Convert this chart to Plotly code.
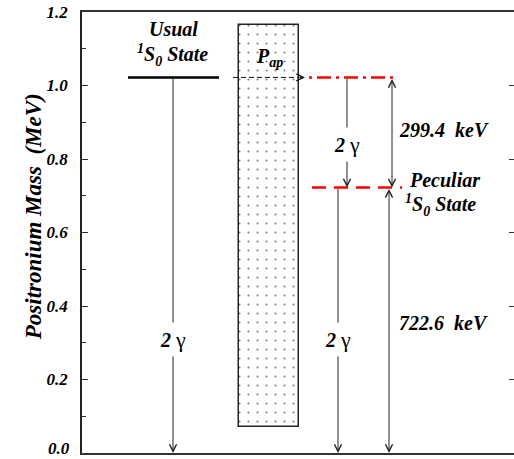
import plotly.graph_objects as go

# ---- data (energies in MeV) ----
usual_level = 1.022          # usual 1S0 state (2 m_e)
peculiar_level = 0.7226      # peculiar 1S0 state
gap_kev = 299.4              # usual - peculiar
peculiar_kev = 722.6
pap_bottom, pap_top = 0.071, 1.165
y_ticks = [0.0, 0.2, 0.4, 0.6, 0.8, 1.0, 1.2]
y_tick_labels = ["0.0", "0.2", "0.4", "0.6", "0.8", "1.0", "1.2"]

# ---- horizontal layout positions (schematic units) ----
X0, X1 = 82, 514
usual_x = [128, 219]
usual_arrow_x = 173
pap_x0, pap_x1 = 239, 299
dash_arrow_x = [233, 305]
red_top_x = [309, 397]
red_low_x = [312, 402]
mid_arrow_x = 347
gap_arrow_x = 392
low_arrow_x = 338
pec_arrow_x = 389

FONT = "Liberation Serif"
ARROW_C = "#222222"
TICK_FONT = dict(family=FONT, size=17, color="black", weight="bold", style="italic")

fig = go.Figure()

# P_ap dotted band
fig.add_trace(go.Bar(
    x=[(pap_x0 + pap_x1) / 2], y=[pap_top - pap_bottom], base=[pap_bottom],
    width=[pap_x1 - pap_x0],
    marker=dict(color="white", line=dict(color="#222222", width=1.5),
                pattern=dict(shape=".", fgcolor="black", bgcolor="white",
                             size=9, solidity=0.045, fillmode="overlay")),
    showlegend=False, hoverinfo="skip"))

# usual level
fig.add_trace(go.Scatter(x=usual_x, y=[usual_level] * 2, mode="lines",
                         line=dict(color="black", width=2.5), showlegend=False))
# dashed black transfer line
fig.add_trace(go.Scatter(x=[dash_arrow_x[0], dash_arrow_x[1] - 6], y=[usual_level] * 2,
                         mode="lines", line=dict(color="#111111", width=1, dash="5px,3px"),
                         showlegend=False))
# red dash-dot at usual level
fig.add_trace(go.Scatter(x=red_top_x, y=[usual_level] * 2, mode="lines",
                         line=dict(color="#ff0000", width=2.5, dash="3px,5px,14px,5px"),
                         showlegend=False))
# red dashed at peculiar level
fig.add_trace(go.Scatter(x=red_low_x, y=[peculiar_level] * 2, mode="lines",
                         line=dict(color="#ff0000", width=2.5, dash="14px,8px"),
                         showlegend=False))
# invisible trace for right y axis
fig.add_trace(go.Scatter(x=[X0], y=[0], yaxis="y2", mode="markers",
                         marker=dict(opacity=0), showlegend=False, hoverinfo="skip"))

annotations = []


def arrow(x, y_head, y_tail, both=False):
    annotations.append(dict(
        x=x, y=y_head, ax=x, ay=y_tail, xref="x", yref="y", axref="x", ayref="y",
        text="", showarrow=True, arrowhead=5, startarrowhead=5, arrowsize=1.4,
        startarrowsize=1.4, arrowwidth=1, arrowcolor=ARROW_C,
        arrowside="end+start" if both else "end"))


arrow(usual_arrow_x, 0.0, usual_level)
arrow(mid_arrow_x, peculiar_level, usual_level)
arrow(gap_arrow_x, peculiar_level, usual_level, both=True)
arrow(low_arrow_x, 0.0, peculiar_level)
arrow(pec_arrow_x, 0.0, peculiar_level, both=True)

# dashed arrow head
annotations.append(dict(x=dash_arrow_x[1], y=usual_level, ax=dash_arrow_x[1] - 7,
                        ay=usual_level, xref="x", yref="y", axref="x", ayref="y",
                        text="", showarrow=True, arrowhead=5, arrowsize=1.4,
                        arrowwidth=1, arrowcolor="#111111"))


def label(x, y, text, size=20, bg=None, xanchor="center", bold=True):
    d = dict(x=x, y=y, xref="x", yref="y", text=text, showarrow=False,
             xanchor=xanchor, yanchor="middle",
             font=dict(family=FONT, size=size, color="black",
                       weight="bold" if bold else "normal",
                       style="italic" if bold else "normal"))
    if bg:
        d.update(bgcolor=bg, borderpad=4)
    annotations.append(d)


gamma = "<b><i>2</i></b> <span style='font-size:22px'>γ</span>"
label(usual_arrow_x, 0.31, gamma, bg="white", bold=False)
label(mid_arrow_x, 0.84, gamma, bg="white", bold=False)
label(low_arrow_x, 0.31, gamma, bg="white", bold=False)

label(usual_arrow_x, 1.155, "Usual")
label(usual_arrow_x - 1, 1.083, "<sup>1</sup>S<sub>0</sub> State")
label((pap_x0 + pap_x1) / 2, 1.075, "P<sub>ap</sub>")
label(397, 0.88, f"{gap_kev}&nbsp;&nbsp;keV", xanchor="left")
label(397, 0.355, f"{peculiar_kev}&nbsp;&nbsp;keV", xanchor="left")
label(407, 0.742, "Peculiar", xanchor="left")
label(403, 0.676, "<sup>1</sup>S<sub>0</sub> State", xanchor="left")

# bottom tick label drawn as an annotation so it stays inside the page
annotations.append(dict(x=0, y=y_ticks[0], xref="paper", yref="y", text=y_tick_labels[0],
                        showarrow=False, xanchor="right", yanchor="bottom", xshift=-10,
                        yshift=-7, font=TICK_FONT))

# y axis title
annotations.append(dict(x=-0.113, y=0.535, xref="paper", yref="paper",
                        text="Positronium Mass&nbsp;&nbsp;(MeV)", textangle=-90,
                        showarrow=False, xanchor="center", yanchor="middle",
                        font=dict(family=FONT, size=23, color="black",
                                  weight="bold", style="italic")))

fig.update_layout(
    width=514, height=459, margin=dict(l=82, r=0, t=12, b=6, autoexpand=False),
    paper_bgcolor="white", plot_bgcolor="white", showlegend=False,
    annotations=annotations, bargap=0,
    xaxis=dict(range=[X0, X1], showgrid=False, zeroline=False, showticklabels=False,
               ticks="", showline=True, linecolor="#333333", linewidth=1.5, mirror=True,
               automargin=False),
    yaxis=dict(range=[0, 1.2], showgrid=False, zeroline=False, automargin=False,
               tickvals=y_ticks, ticktext=[""] + y_tick_labels[1:], ticks="inside", ticklen=6,
               tickcolor="#333333", showline=True, linecolor="#222222", linewidth=1.5,
               ticklabelstandoff=9, ticklabeloverflow="allow", tickfont=TICK_FONT,
               minor=dict(dtick=0.1, ticks="inside", ticklen=4, tickcolor="#333333")),
    yaxis2=dict(range=[0, 1.2], overlaying="y", side="right", showgrid=False,
                zeroline=False, showline=False, showticklabels=False, automargin=False,
                tickvals=y_ticks, ticks="inside", ticklen=5, tickcolor="#333333"),
)

# remove the page's default 8px body margin so the figure sits at the window's corner
fig.write_html("out.html", config={"displayModeBar": False},
               post_script="document.body.style.margin='0';")
